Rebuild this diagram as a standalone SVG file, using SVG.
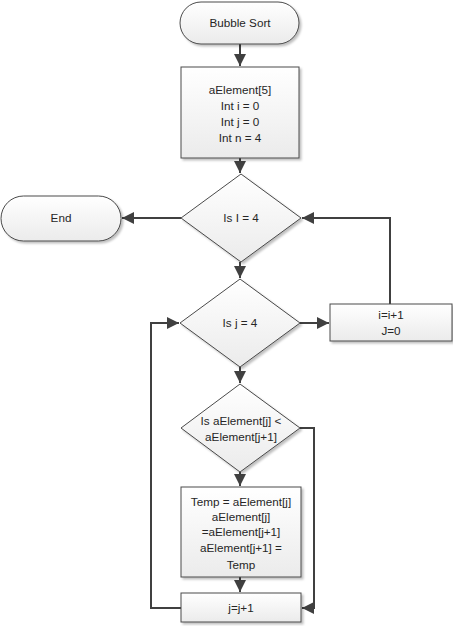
<svg xmlns="http://www.w3.org/2000/svg" width="453" height="626" viewBox="0 0 453 626">
<style>
.s{fill:url(#g);stroke:#4a4a4a;stroke-width:1;filter:url(#sh)}
.t{font-family:"Liberation Sans",Arial,sans-serif;font-size:11.7px;fill:#262626;text-anchor:middle}
.c{fill:none;stroke:#404040;stroke-width:2;marker-end:url(#a)}
</style>
<defs>
<linearGradient id="g" x1="0" y1="0" x2="0" y2="1"><stop offset="0" stop-color="#ffffff"/><stop offset="1" stop-color="#ebebeb"/></linearGradient>
<filter id="sh" x="-10%" y="-10%" width="130%" height="130%"><feDropShadow dx="2" dy="2" stdDeviation="1.2" flood-color="#000" flood-opacity="0.25"/></filter>
<marker id="a" viewBox="0 0 10 10" refX="10" refY="5" markerWidth="6" markerHeight="6" orient="auto" markerUnits="strokeWidth"><path d="M0,0 L10,5 L0,10 z" fill="#404040"/></marker>
</defs>
<g id="connectors">
<path class="c" d="M240,44 V66"/>
<path class="c" d="M240,158 V173"/>
<path class="c" d="M181,218 H122"/>
<path class="c" d="M240,262 V278"/>
<path class="c" d="M390,304 V218 H302"/>
<path class="c" d="M300,323 H329"/>
<path class="c" d="M240,367 V383"/>
<path class="c" d="M240,472 V486"/>
<path class="c" d="M300,428 H314 V608 H302"/>
<path class="c" d="M240,577 V592"/>
<path class="c" d="M181,608 H151 V323 H179"/>
</g>
<g id="start"><rect class="s" x="180" y="2" width="119" height="42" rx="21"/><text class="t" x="240" y="27">Bubble Sort</text></g>
<g id="init"><rect class="s" x="181" y="67" width="118" height="91"/>
<text class="t" x="240" y="94">aElement[5]</text><text class="t" x="240" y="110">Int i = 0</text><text class="t" x="240" y="126">Int j = 0</text><text class="t" x="240" y="142">Int n = 4</text></g>
<g id="end"><rect class="s" x="1" y="196" width="120" height="45" rx="22.5"/><text class="t" x="61" y="222">End</text></g>
<g id="dec1"><polygon class="s" points="241,174 301,218 241,262 181,218"/><text class="t" x="241" y="222">Is I = 4</text></g>
<g id="dec2"><polygon class="s" points="240,279 300,323 240,367 180,323"/><text class="t" x="240" y="327">Is j = 4</text></g>
<g id="inc_i"><rect class="s" x="330" y="304" width="122" height="37"/><text class="t" x="391" y="319">i=i+1</text><text class="t" x="391" y="335">J=0</text></g>
<g id="dec3"><polygon class="s" points="240,384 300,428 240,472 181,428"/><text class="t" x="241" y="425">Is aElement[j] &lt;</text><text class="t" x="241" y="441">aElement[j+1]</text></g>
<g id="swap"><rect class="s" x="181" y="487" width="120" height="90"/>
<text class="t" x="241" y="506">Temp = aElement[j]</text><text class="t" x="241" y="521">aElement[j]</text><text class="t" x="241" y="536">=aElement[j+1]</text><text class="t" x="241" y="552">aElement[j+1] =</text><text class="t" x="241" y="569">Temp</text></g>
<g id="inc_j"><rect class="s" x="181" y="593" width="120" height="29"/><text class="t" x="241" y="612">j=j+1</text></g>
</svg>
